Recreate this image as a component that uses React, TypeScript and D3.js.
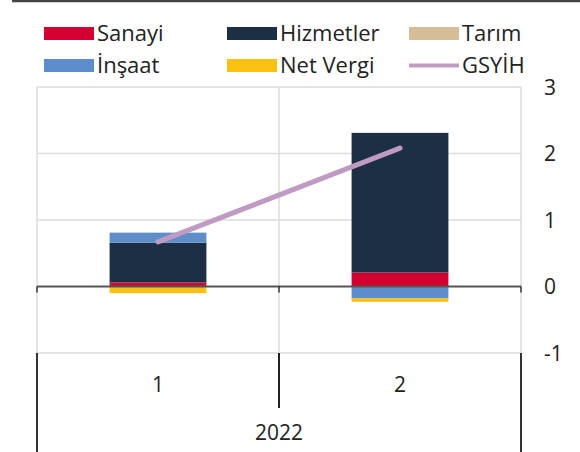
import React, { useRef, useEffect } from "react";
import * as d3 from "d3";

const categories = ["1", "2"];
const year = "2022";
const seriesNames = ["Sanayi", "Hizmetler", "Tarım", "İnşaat", "Net Vergi"];
const sanayi = [0.06, 0.21];
const hizmetler = [0.6, 2.1];
const tarim = [0.0, 0.0];
const insaat = [0.15, -0.18];
const netVergi = [-0.1, -0.05];
const gsyih = [0.67, 2.08];
const yTicks = [3, 2, 1, 0, -1];

const colors: Record<string, string> = {
  Sanayi: "#d50032",
  Hizmetler: "#1d2f44",
  "Tarım": "#d5bd98",
  "İnşaat": "#5e8ec9",
  "Net Vergi": "#f9c213",
  "GSYİH": "#bf9bc3",
};

const legendRows = [
  ["Sanayi", "Hizmetler", "Tarım"],
  ["İnşaat", "Net Vergi", "GSYİH"],
];

export default function App() {
  const ref = useRef<SVGSVGElement>(null);
  const width = 580;
  const height = 452;
  const plot = { left: 37, right: 521, top: 87, bottom: 353 };

  useEffect(() => {
    if (!ref.current) return;
    const svg = d3.select(ref.current);
    svg.selectAll("*").remove();
    const font = "'Open Sans', sans-serif";
    const textColor = "#222";

    const x = d3.scaleBand().domain(categories).range([plot.left, plot.right]);
    const y = d3.scaleLinear().domain([-1, 3]).range([plot.bottom, plot.top]);
    const barW = x.bandwidth() * 0.4;

    // top rule
    svg.append("line")
      .attr("x1", 12).attr("x2", width).attr("y1", 1).attr("y2", 1)
      .attr("stroke", "#444").attr("stroke-width", 2.5);

    // grid
    const grid = svg.append("g");
    yTicks.filter((t) => t !== 0).forEach((t) => {
      grid.append("line")
        .attr("x1", plot.left).attr("x2", plot.right)
        .attr("y1", y(t)).attr("y2", y(t))
        .attr("stroke", "#ddd").attr("stroke-width", 1.5);
    });
    const vx = [plot.left, ...categories.slice(1).map((c) => x(c)!), plot.right];
    vx.forEach((vxi) => {
      grid.append("line")
        .attr("x1", vxi).attr("x2", vxi)
        .attr("y1", plot.top).attr("y2", plot.bottom)
        .attr("stroke", "#ddd").attr("stroke-width", 1.5);
    });

    // bars
    const rows = categories.map((c, i) => ({
      cat: c,
      Sanayi: sanayi[i],
      Hizmetler: hizmetler[i],
      "Tarım": tarim[i],
      "İnşaat": insaat[i],
      "Net Vergi": netVergi[i],
    }));
    const stack = d3.stack<any>().keys(seriesNames).offset(d3.stackOffsetDiverging);
    const layers = stack(rows);
    layers.forEach((layer) => {
      svg.append("g")
        .attr("fill", colors[layer.key])
        .selectAll("rect")
        .data(layer)
        .join("rect")
        .attr("x", (d: any) => x(d.data.cat)! + (x.bandwidth() - barW) / 2)
        .attr("width", barW)
        .attr("y", (d) => y(Math.max(d[0], d[1])))
        .attr("height", (d) => Math.abs(y(d[0]) - y(d[1])));
    });

    // zero axis
    svg.append("line")
      .attr("x1", plot.left).attr("x2", plot.right)
      .attr("y1", y(0)).attr("y2", y(0))
      .attr("stroke", "#555").attr("stroke-width", 2);
    vx.forEach((vxi) => {
      svg.append("line")
        .attr("x1", vxi).attr("x2", vxi)
        .attr("y1", y(0)).attr("y2", y(0) + 6)
        .attr("stroke", "#333").attr("stroke-width", 1.5);
    });

    // line
    const ln = d3.line<number>()
      .x((_, i) => x(categories[i])! + x.bandwidth() / 2)
      .y((d) => y(d));
    svg.append("path")
      .datum(gsyih)
      .attr("d", ln)
      .attr("fill", "none")
      .attr("stroke", colors["GSYİH"])
      .attr("stroke-width", 5)
      .attr("stroke-linecap", "round");

    // category axis below plot
    [plot.left, plot.right].forEach((vxi) => {
      svg.append("line")
        .attr("x1", vxi).attr("x2", vxi)
        .attr("y1", plot.bottom).attr("y2", height)
        .attr("stroke", "#333").attr("stroke-width", 2);
    });
    categories.slice(1).forEach((c) => {
      svg.append("line")
        .attr("x1", x(c)!).attr("x2", x(c)!)
        .attr("y1", plot.bottom).attr("y2", 408)
        .attr("stroke", "#222").attr("stroke-width", 2);
    });
    categories.forEach((c) => {
      svg.append("text")
        .attr("x", x(c)! + x.bandwidth() / 2)
        .attr("y", 392)
        .attr("text-anchor", "middle")
        .attr("font-family", font).attr("font-size", 21)
        .attr("fill", textColor)
        .text(c);
    });
    svg.append("text")
      .attr("x", (plot.left + plot.right) / 2)
      .attr("y", 440)
      .attr("text-anchor", "middle")
      .attr("font-family", font).attr("font-size", 21)
      .attr("fill", textColor)
      .text(year);

    // y tick labels
    yTicks.forEach((t) => {
      svg.append("text")
        .attr("x", 544)
        .attr("y", y(t))
        .attr("dy", "0.36em")
        .attr("font-family", font).attr("font-size", 21)
        .attr("fill", textColor)
        .text(String(t));
    });

    // legend
    const colX = [44, 227, 409];
    const rowY = [33.5, 65.5];
    legendRows.forEach((row, ri) => {
      row.forEach((name, ci) => {
        const g = svg.append("g").attr("transform", `translate(${colX[ci]},${rowY[ri]})`);
        if (name === "GSYİH") {
          g.append("line")
            .attr("x1", 0).attr("x2", 50).attr("y1", 0).attr("y2", 0)
            .attr("stroke", colors[name]).attr("stroke-width", 4);
        } else {
          g.append("rect")
            .attr("x", 0).attr("y", -6.5).attr("width", 50).attr("height", 13)
            .attr("fill", colors[name]);
        }
        g.append("text")
          .attr("x", 53).attr("y", 7)
          .attr("font-family", font).attr("font-size", 22)
          .attr("fill", textColor)
          .text(name);
      });
    });
  }, []);

  return (
    <svg
      ref={ref}
      width={width}
      height={height}
      style={{ position: "absolute", left: 0, top: 0, background: "#fff" }}
    />
  );
}
